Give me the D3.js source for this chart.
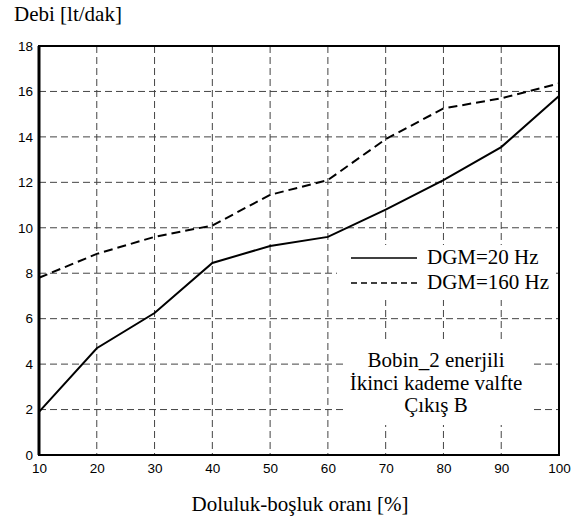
<!DOCTYPE html>
<html>
<head>
<meta charset="utf-8">
<script src="https://cdn.jsdelivr.net/npm/d3@7/dist/d3.min.js"></script>
<style>
  html, body { margin: 0; padding: 0; background: #fff; }
  svg { display: block; }
</style>
</head>
<body>
<svg id="chart" width="577" height="518"></svg>
<script>
// Flow rate vs. duty cycle for two PWM frequencies
const dutyCycle = [10, 20, 30, 40, 50, 60, 70, 80, 90, 100];
const flow20Hz  = [1.9, 4.7, 6.25, 8.45, 9.2, 9.6, 10.8, 12.1, 13.55, 15.8];
const flow160Hz = [7.8, 8.85, 9.6, 10.1, 11.45, 12.1, 13.9, 15.25, 15.7, 16.35];
const xTicks = [10, 20, 30, 40, 50, 60, 70, 80, 90, 100];
const yTicks = [0, 2, 4, 6, 8, 10, 12, 14, 16, 18];
const seriesNames = ["DGM=20 Hz", "DGM=160 Hz"];
const noteLines = ["Bobin_2 enerjili", "İkinci kademe valfte", "Çıkış B"];

const svg = d3.select("#chart");
const m = { left: 39, right: 559, top: 46, bottom: 455 };

const x = d3.scaleLinear().domain([10, 100]).range([m.left, m.right]);
const y = d3.scaleLinear().domain([0, 18]).range([m.bottom, m.top]);

const serif = "'Liberation Serif', 'Times New Roman', serif";
const sans = "'Liberation Sans', Arial, sans-serif";

// grid
const grid = svg.append("g").attr("stroke", "#444").attr("stroke-width", 1)
  .attr("stroke-dasharray", "7,4").attr("fill", "none");
xTicks.slice(1, -1).forEach(t => {
  grid.append("line").attr("x1", x(t)).attr("x2", x(t)).attr("y1", m.top).attr("y2", m.bottom);
});
yTicks.slice(1, -1).forEach(t => {
  grid.append("line").attr("x1", m.left).attr("x2", m.right).attr("y1", y(t)).attr("y2", y(t));
});

// white panels for legend and note
svg.append("rect").attr("x", 337).attr("y", 245).attr("width", 216).attr("height", 55).attr("fill", "#fff");
svg.append("rect").attr("x", 345).attr("y", 343).attr("width", 185).attr("height", 82).attr("fill", "#fff");

// data lines
const line = d3.line().x((d, i) => x(dutyCycle[i])).y(d => y(d));
svg.append("path").datum(flow20Hz).attr("d", line)
  .attr("fill", "none").attr("stroke", "#000").attr("stroke-width", 2);
svg.append("path").datum(flow160Hz).attr("d", line)
  .attr("fill", "none").attr("stroke", "#000").attr("stroke-width", 2)
  .attr("stroke-dasharray", "9,5");

// frame
svg.append("rect").attr("x", m.left).attr("y", m.top)
  .attr("width", m.right - m.left).attr("height", m.bottom - m.top)
  .attr("fill", "none").attr("stroke", "#000").attr("stroke-width", 2);
svg.append("line").attr("x1", m.left).attr("x2", m.left).attr("y1", m.top).attr("y2", m.bottom)
  .attr("stroke", "#000").attr("stroke-width", 3);

// axes
const xAxis = svg.append("g").attr("transform", `translate(0,${m.bottom})`)
  .call(d3.axisBottom(x).tickValues(xTicks).tickSize(0).tickPadding(8));
const yAxis = svg.append("g").attr("transform", `translate(${m.left},0)`)
  .call(d3.axisLeft(y).tickValues(yTicks).tickSize(0).tickPadding(6));
[xAxis, yAxis].forEach(a => {
  a.select(".domain").remove();
  a.selectAll("text").attr("font-family", sans).attr("font-size", 13.5).attr("fill", "#000");
});

// axis titles
svg.append("text").attr("x", 14).attr("y", 21).attr("font-family", serif)
  .attr("font-size", 21).text("Debi [lt/dak]");
svg.append("text").attr("x", 300).attr("y", 511).attr("text-anchor", "middle")
  .attr("font-family", serif).attr("font-size", 21).text("Doluluk-boşluk oranı [%]");

// legend
const legend = svg.append("g");
seriesNames.forEach((name, i) => {
  const ly = 258 + i * 25;
  legend.append("line").attr("x1", 351).attr("x2", 417).attr("y1", ly).attr("y2", ly)
    .attr("stroke", "#000").attr("stroke-width", 1.5)
    .attr("stroke-dasharray", i === 1 ? "6,4" : null);
  legend.append("text").attr("x", 427).attr("y", ly + 6).attr("font-family", serif)
    .attr("font-size", 21).text(name);
});

// note
noteLines.forEach((t, i) => {
  svg.append("text").attr("x", 436).attr("y", 367 + i * 22.5).attr("text-anchor", "middle")
    .attr("font-family", serif).attr("font-size", 21).text(t);
});
</script>
</body>
</html>
